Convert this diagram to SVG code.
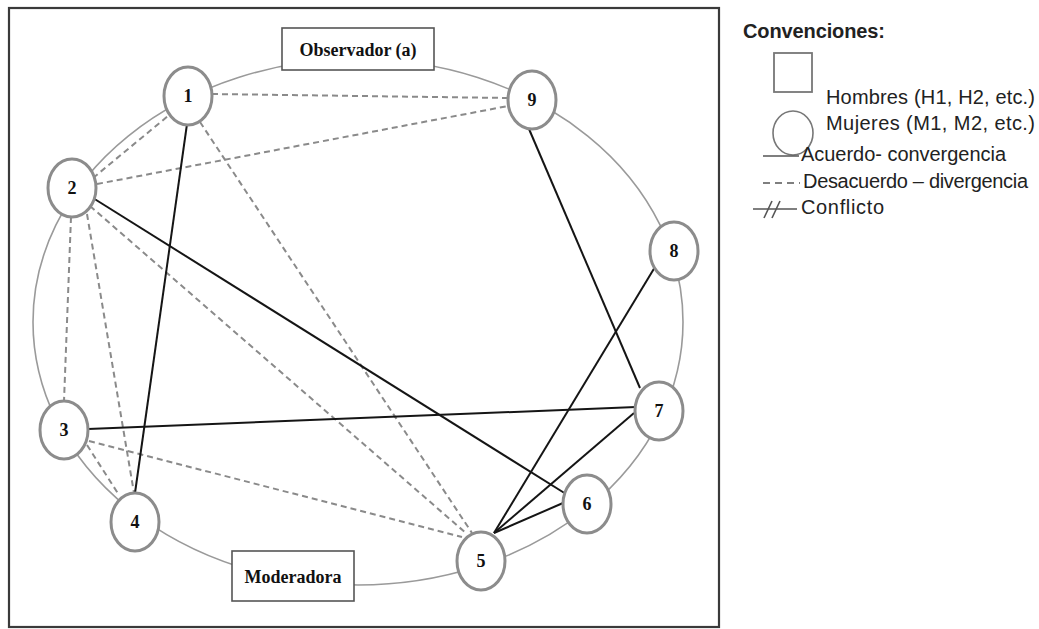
<svg xmlns="http://www.w3.org/2000/svg" width="1039" height="629" viewBox="0 0 1039 629">
<style>
.frame{fill:none;stroke:#3a3a3a;stroke-width:2.2}
.ring{fill:none;stroke:#9a9a9a;stroke-width:1.6}
.node ellipse{fill:#fff;stroke:#8c8c8c;stroke-width:3}
.num{font-family:"Liberation Serif","Times New Roman",serif;font-weight:bold;font-size:18px;fill:#111;text-anchor:middle}
.box rect{fill:#fff;stroke:#555;stroke-width:1.6}
.lbl{font-family:"Liberation Serif","Times New Roman",serif;font-weight:bold;font-size:18px;fill:#111;text-anchor:middle}
.solid{stroke:#151515;stroke-width:2;fill:none}
.dash{stroke:#8a8a8a;stroke-width:2;stroke-dasharray:6 4;fill:none}
.leg{font-family:"Liberation Sans",Arial,sans-serif;font-size:20px;fill:#222}
.legline{stroke:#555;stroke-width:1.6;fill:none}
</style>
<rect width="1039" height="629" fill="#fff"/>
<rect class="frame" x="9" y="8" width="710" height="619"/>
<ellipse class="ring" cx="358" cy="322" rx="325" ry="263"/>
<g id="connectors">
<line class="dash" x1="212" y1="94" x2="508" y2="98"/>
<line class="dash" x1="97" y1="184" x2="508" y2="106"/>
<line class="dash" x1="93" y1="178" x2="168" y2="116"/>
<line class="dash" x1="200" y1="122" x2="472" y2="533"/>
<line class="dash" x1="90" y1="206" x2="467" y2="534"/>
<line class="dash" x1="87" y1="214" x2="134" y2="493"/>
<line class="dash" x1="71" y1="217" x2="64" y2="401"/>
<line class="dash" x1="89" y1="441" x2="462" y2="537"/>
<line class="dash" x1="87" y1="445" x2="119" y2="495"/>
<line class="solid" x1="187" y1="124" x2="135" y2="493"/>
<line class="solid" x1="93" y1="198" x2="566" y2="494"/>
<line class="solid" x1="88" y1="429" x2="636" y2="407"/>
<line class="solid" x1="529" y1="129" x2="640" y2="388"/>
<line class="solid" x1="655" y1="267" x2="494" y2="533"/>
<line class="solid" x1="634" y1="413" x2="494" y2="533"/>
<line class="solid" x1="563" y1="503" x2="494" y2="533"/>
</g>
<g id="observador" class="box"><rect x="282" y="28" width="152" height="42"/><text class="lbl" x="358" y="56" textLength="117">Observador (a)</text></g>
<g id="moderadora" class="box"><rect x="232" y="551" width="122" height="50"/><text class="lbl" x="293" y="583" textLength="97">Moderadora</text></g>
<g id="n1" class="node"><ellipse cx="188" cy="96" rx="24" ry="29"/><text class="num" x="188" y="102">1</text></g>
<g id="n2" class="node"><ellipse cx="72" cy="188" rx="24" ry="29"/><text class="num" x="72" y="194">2</text></g>
<g id="n3" class="node"><ellipse cx="64" cy="430" rx="24" ry="29"/><text class="num" x="64" y="436">3</text></g>
<g id="n4" class="node"><ellipse cx="135" cy="522" rx="24" ry="29"/><text class="num" x="135" y="528">4</text></g>
<g id="n5" class="node"><ellipse cx="481" cy="561" rx="24" ry="29"/><text class="num" x="481" y="567">5</text></g>
<g id="n6" class="node"><ellipse cx="587" cy="504" rx="24" ry="29"/><text class="num" x="587" y="510">6</text></g>
<g id="n7" class="node"><ellipse cx="659" cy="411" rx="24" ry="29"/><text class="num" x="659" y="417">7</text></g>
<g id="n8" class="node"><ellipse cx="674" cy="251" rx="24" ry="29"/><text class="num" x="674" y="257">8</text></g>
<g id="n9" class="node"><ellipse cx="532" cy="100" rx="24" ry="29"/><text class="num" x="532" y="106">9</text></g>
<g id="legend">
<text class="leg" x="743" y="38" font-weight="bold" font-size="19" textLength="142">Convenciones:</text>
<rect x="774" y="53" width="38" height="39" fill="#fff" stroke="#777" stroke-width="1.8"/>
<text class="leg" x="826" y="104" textLength="209">Hombres (H1, H2, etc.)</text>
<ellipse cx="793" cy="133" rx="20" ry="22" fill="#fff" stroke="#777" stroke-width="1.6"/>
<text class="leg" x="826" y="130" textLength="209">Mujeres (M1, M2, etc.)</text>
<line class="legline" x1="763" y1="156" x2="799" y2="156"/>
<text class="leg" x="801" y="161" textLength="205">Acuerdo- convergencia</text>
<line class="legline" x1="763" y1="183" x2="800" y2="183" stroke-dasharray="7 5"/>
<text class="leg" x="803" y="188" textLength="225">Desacuerdo – divergencia</text>
<line class="legline" x1="753" y1="209" x2="797" y2="209"/>
<line class="legline" x1="764" y1="218" x2="772" y2="201"/>
<line class="legline" x1="772" y1="218" x2="780" y2="201"/>
<text class="leg" x="801" y="214" textLength="83">Conflicto</text>
</g>
</svg>
